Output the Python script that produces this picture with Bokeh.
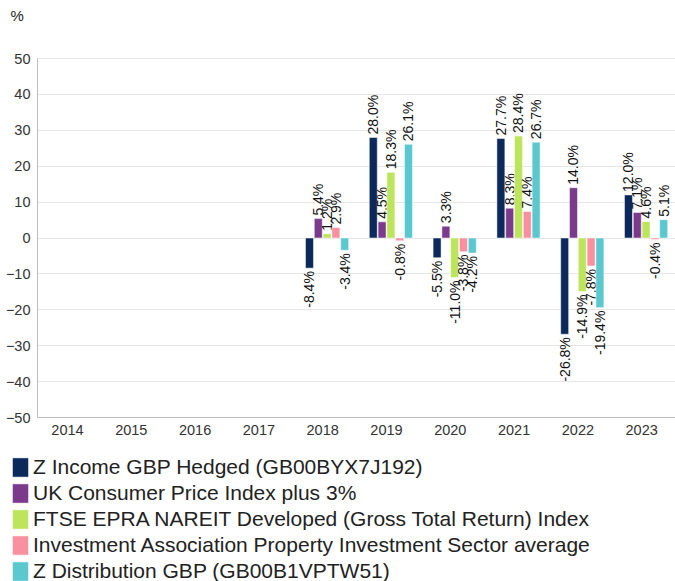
import math
from bokeh.plotting import figure
from bokeh.models import (ColumnDataSource, Range1d, Legend, LegendItem, Label,
                          SingleIntervalTicker, FixedTicker)
from bokeh.embed import file_html
from bokeh.resources import INLINE
from bokeh.core.properties import value

years = ["2014", "2015", "2016", "2017", "2018", "2019", "2020", "2021", "2022", "2023"]
series_names = [
    "Z Income GBP Hedged (GB00BYX7J192)",
    "UK Consumer Price Index plus 3%",
    "FTSE EPRA NAREIT Developed (Gross Total Return) Index",
    "Investment Association Property Investment Sector average",
    "Z Distribution GBP (GB00B1VPTW51)",
]
colors = ["#0b2a5b", "#7b3a8b", "#bce45c", "#f890a0", "#5bc7cf"]
nan = float("nan")
z_income = [nan, nan, nan, nan, -8.4, 28.0, -5.5, 27.7, -26.8, 12.0]
uk_cpi = [nan, nan, nan, nan, 5.4, 4.5, 3.3, 8.3, 14.0, 7.1]
ftse_epra = [nan, nan, nan, nan, 1.2, 18.3, -11.0, 28.4, -14.9, 4.6]
ia_property = [nan, nan, nan, nan, 2.9, -0.8, -3.8, 7.4, -7.8, -0.4]
z_distribution = [nan, nan, nan, nan, -3.4, 26.1, -4.2, 26.7, -19.4, 5.1]
series_values = [z_income, uk_cpi, ftse_epra, ia_property, z_distribution]
y_min, y_max, y_step = -50, 50, 10

FONT = "Liberation Sans"
W, H = 675, 581
# layout geometry (pixels): plot area 37..675 x 58..417
AX_L, AX_T, AX_B = 37, 58, 417
n = len(years)
px_per_cat = 63.8
axis_x = -0.47
x0 = axis_x - AX_L / px_per_cat
x1 = axis_x + (W - AX_L) / px_per_cat
ppu = (AX_B - AX_T) / (y_max - y_min)
ytop = y_max + AX_T / ppu
ybot = y_min - (H - AX_B) / ppu

p = figure(width=W, height=H, x_range=Range1d(x0, x1), y_range=Range1d(ybot, ytop),
           output_backend="svg", toolbar_location=None, min_border=0)
p.outline_line_color = None
p.xgrid.grid_line_color = None
p.ygrid.grid_line_color = "#e6e6e6"

p.yaxis.fixed_location = axis_x
p.yaxis.bounds = (y_min, y_max)
p.yaxis.ticker = SingleIntervalTicker(interval=y_step)
p.ygrid.ticker = SingleIntervalTicker(interval=y_step)
p.ygrid.bounds = (y_min, y_max)
p.ygrid.cross_bounds = (axis_x, x1)
p.xaxis.fixed_location = y_min
p.xaxis.bounds = (axis_x, x1)
p.xaxis.ticker = FixedTicker(ticks=list(range(n)))
p.xaxis.major_label_overrides = {i: y for i, y in enumerate(years)}
for ax in (p.xaxis[0], p.yaxis[0]):
    ax.axis_line_color = "#bdbdbd"
    ax.major_tick_line_color = None
    ax.minor_tick_line_color = None
    ax.major_tick_out = 0
    ax.major_tick_in = 0
    ax.minor_tick_out = 0
    ax.major_label_text_font = FONT
    ax.major_label_text_font_size = "14.5px"
    ax.major_label_text_color = "#333333"
    ax.major_label_standoff = 7

step = 0.138
bar_w = 0.125
items = []
for i, (name, vals, col) in enumerate(zip(series_names, series_values, colors)):
    off = (i - 1.5) * step
    xs = [k + off for k, v in enumerate(vals) if not math.isnan(v)]
    vs = [v for v in vals if not math.isnan(v)]
    src = ColumnDataSource(dict(x=xs, v=vs))
    r = p.vbar(x="x", top="v", bottom=0, width=bar_w, source=src,
               fill_color=col, line_color="white", line_width=0.5)
    items.append(LegendItem(label=name, renderers=[r]))
    pos = ColumnDataSource(dict(x=[x for x, v in zip(xs, vs) if v >= 0],
                                v=[v for v in vs if v >= 0],
                                lab=[f"{v:.1f}%" for v in vs if v >= 0]))
    neg = ColumnDataSource(dict(x=[x for x, v in zip(xs, vs) if v < 0],
                                v=[v for v in vs if v < 0],
                                lab=[f"{v:.1f}%" for v in vs if v < 0]))
    p.text(x="x", y="v", text="lab", source=pos,
           angle=math.pi / 2, text_align="left", text_baseline="middle", y_offset=-3,
           text_font=value(FONT), text_font_size="14px", text_color="#111111")
    p.text(x="x", y="v", text="lab", source=neg,
           angle=math.pi / 2, text_align="right", text_baseline="middle", y_offset=3,
           text_font=value(FONT), text_font_size="14px", text_color="#111111")

legend = Legend(items=items, location=(10, -2), orientation="vertical",
                border_line_color=None, background_fill_alpha=0, padding=0, margin=0,
                spacing=2, glyph_width=20, glyph_height=24, label_height=24,
                label_standoff=3, label_text_font=FONT, label_text_font_size="21px",
                label_text_color="#222222")
p.add_layout(legend)

pct = Label(x=10, y=H - 15, x_units="screen", y_units="screen", text="%",
            text_font=FONT, text_font_size="15px", text_baseline="middle",
            text_color="#222222")
p.add_layout(pct)

open("out.html", "w").write(file_html(p, INLINE))
